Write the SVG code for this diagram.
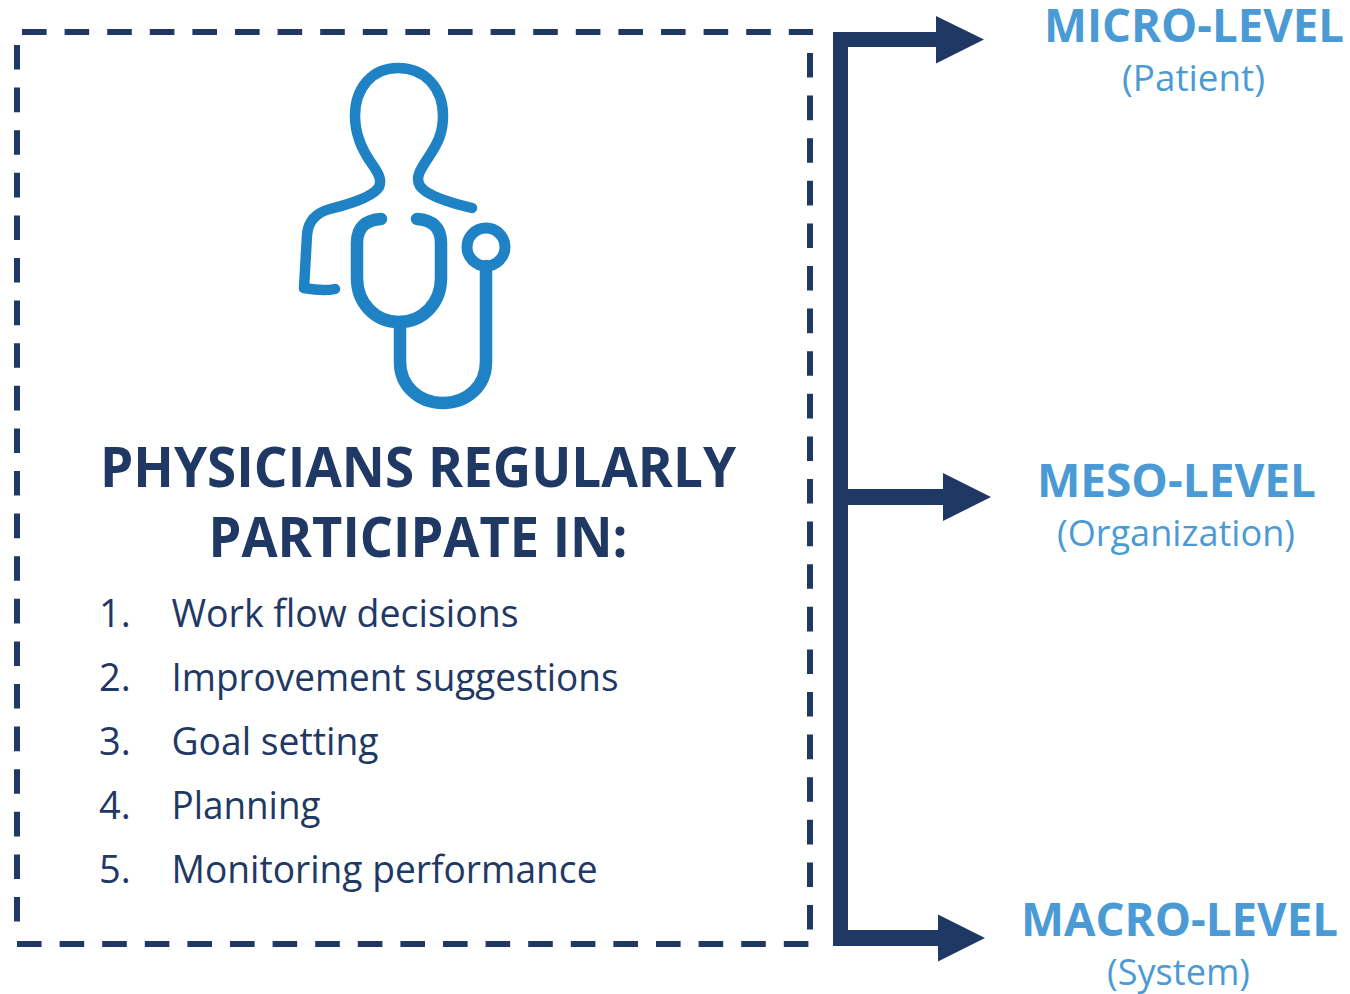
<svg xmlns="http://www.w3.org/2000/svg" width="1350" height="994" viewBox="0 0 1350 994">
<style>
text{font-family:"Open Sans","Noto Sans","Liberation Sans",sans-serif}
.dash{fill:none;stroke:#1f3864;stroke-width:6;stroke-dasharray:24.6 18}
.conn{fill:#1f3864;stroke:none}
.ico{fill:none;stroke:#1f82c5;stroke-linecap:round;stroke-linejoin:round}
.title{font-size:56px;font-weight:700;fill:#1f3864;text-anchor:middle}
.item{font-size:38px;fill:#1f3864}
.lvl{font-size:47px;font-weight:700;fill:#4a9bd5}
.sub{font-size:36px;fill:#4a9bd5}
</style>
<rect width="1350" height="994" fill="#fff"/>
<g id="box">
<path class="dash" d="M22 32H813"/>
<path class="dash" d="M810 53V930"/>
<path class="dash" d="M17 45V930"/>
<path class="dash" d="M17 944H810"/>
</g>
<g id="physician-icon">
<path class="ico" stroke-width="10.5" d="M472 208C455 204 427 196 420 186C415 178 420 170 428 158C438 143 443 133 443 116C443 88 425 68 398 68C372 68 355 88 355 116C355 135 362 150 372 164C379 174 382 180 379 187C373 197 350 204 330 209C315 213 308 222 307 235L304 288C315 290 326 291 335 289"/>
<path class="ico" stroke-width="12.5" d="M381 219C366 220 357 227 357 243V278C357 303 375 322 399 322C423 322 441 303 441 278V243C441 227 432 220 417 219"/>
<path class="ico" stroke-width="12.5" d="M400 322V362C400 386 419 403 443 403C467 403 486 386 486 362V266"/>
<circle class="ico" stroke-width="11" cx="486" cy="247" r="19"/>
</g>
<g id="physicians-text">
<text class="title" x="418" y="487" textLength="636" lengthAdjust="spacingAndGlyphs">PHYSICIANS REGULARLY</text>
<text class="title" x="418" y="557" textLength="419" lengthAdjust="spacingAndGlyphs">PARTICIPATE IN:</text>
<text class="item" x="99" y="627">1.</text><text class="item" x="171.5" y="627" textLength="347" lengthAdjust="spacingAndGlyphs">Work flow decisions</text>
<text class="item" x="99" y="691">2.</text><text class="item" x="171.5" y="691" textLength="447" lengthAdjust="spacingAndGlyphs">Improvement suggestions</text>
<text class="item" x="99" y="755">3.</text><text class="item" x="171.5" y="755" textLength="207" lengthAdjust="spacingAndGlyphs">Goal setting</text>
<text class="item" x="99" y="819">4.</text><text class="item" x="171.5" y="819" textLength="149" lengthAdjust="spacingAndGlyphs">Planning</text>
<text class="item" x="99" y="883">5.</text><text class="item" x="171.5" y="883" textLength="426" lengthAdjust="spacingAndGlyphs">Monitoring performance</text>
</g>
<g id="connectors">
<path class="conn" d="M833 32H936V16L984 39.5L936 63.5V47H848V489H943V473L991 497L943 521V505H848V930H938V914.5L985 938L938 961.5V946H833Z"/>
</g>
<g id="micro-level">
<text class="lvl" x="1044" y="42" textLength="300" lengthAdjust="spacingAndGlyphs">MICRO-LEVEL</text>
<text class="sub" x="1122" y="91" textLength="143" lengthAdjust="spacingAndGlyphs">(Patient)</text>
</g>
<g id="meso-level">
<text class="lvl" x="1037" y="497" textLength="279" lengthAdjust="spacingAndGlyphs">MESO-LEVEL</text>
<text class="sub" x="1057" y="546" textLength="238" lengthAdjust="spacingAndGlyphs">(Organization)</text>
</g>
<g id="macro-level">
<text class="lvl" x="1021" y="936" textLength="317" lengthAdjust="spacingAndGlyphs">MACRO-LEVEL</text>
<text class="sub" x="1107" y="985" textLength="143" lengthAdjust="spacingAndGlyphs">(System)</text>
</g>
</svg>
